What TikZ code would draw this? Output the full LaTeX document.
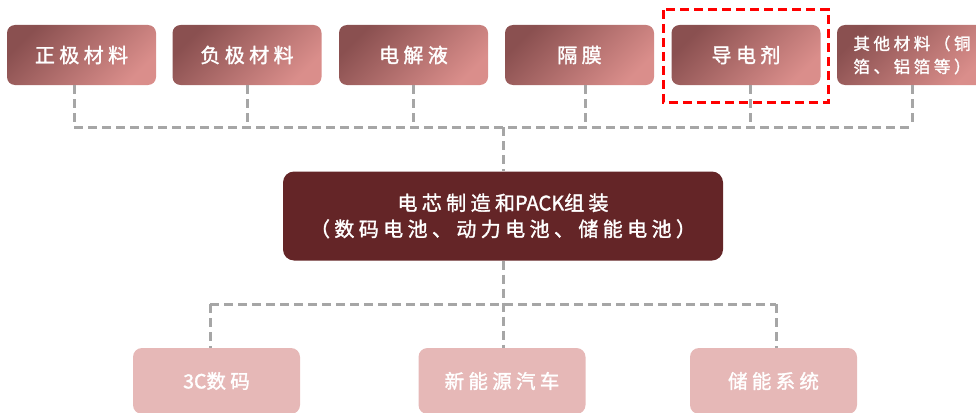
\documentclass[tikz,border=0pt]{standalone}
\usepackage{fontspec}
\usetikzlibrary{calc}
\newfontfamily\cjk[LetterSpace=22, FakeBold=1.6]{Noto Sans CJK SC}
\newfontfamily\cjkn[FakeBold=1.6]{Noto Sans CJK SC}
\definecolor{topdark}{HTML}{8A5050}
\definecolor{toplight}{HTML}{DA8E8B}
\definecolor{corered}{HTML}{642527}
\definecolor{apppink}{HTML}{E6B8B7}
\definecolor{conngray}{HTML}{A6A6A6}
\tikzset{
  mat/.style={rounded corners=8pt, minimum width=149pt, minimum height=60pt,
    top color=topdark, bottom color=toplight, shading angle=45, draw=none,
    text=white, inner sep=0pt, font=\cjk\fontsize{20}{23}\selectfont},
  corebox/.style={rounded corners=11pt, minimum width=440pt, minimum height=89pt,
    fill=corered, text=white, align=center, inner sep=0pt,
    font=\cjk\fontsize{20}{26}\selectfont},
  appbox/.style={rounded corners=9pt, minimum width=167pt, minimum height=66pt,
    fill=apppink, text=white, inner sep=0pt, font=\cjk\fontsize{19.5}{23}\selectfont},
  conn/.style={draw=conngray, line width=3pt, dash pattern=on 9pt off 5pt},
  reddash/.style={draw=red, line width=2.6pt, dash pattern=on 9pt off 5pt}
}
\begin{document}
\begin{tikzpicture}[x=1pt,y=-1pt]
\useasboundingbox (0,0) rectangle (976,412);
% top material boxes
\node[mat] (t1) at (81.5,55) {正极材料};
\node[mat] (t2) at (247,55) {负极材料};
\node[mat] (t3) at (413.5,55) {电解液};
\node[mat] (t4) at (579.5,55) {隔膜};
\node[mat] (t5) at (746,55) {导电剂};
\node[mat, minimum width=150pt, align=left, font=\cjk\fontsize{16.5}{23}\selectfont] (t6) at (912,55) {其他材料（铜\\箔、铝箔等）};
% red highlight
\draw[reddash] ($(t5.north west)+(-8,-15)$) rectangle ($(t5.south east)+(8,17)$);
% core box
\node[corebox] (c) at (503,216) {电芯制造和{\cjkn PACK}组装\\（数码电池、动力电池、储能电池）};
% application boxes
\node[appbox] (b1) at (216.5,381) {{\cjkn 3C}数码};
\node[appbox] (b2) at (502,381) {新能源汽车};
\node[appbox] (b3) at (773.5,381) {储能系统};
% top connectors
\coordinate (hl) at (74,127);
\coordinate (hr) at (912,127);
\coordinate (hc) at (503,127);
\coordinate (v1) at (74,127);
\coordinate (v2) at (247,127);
\coordinate (v3) at (413,127);
\coordinate (v4) at (585,127);
\coordinate (v5) at (750,127);
\coordinate (v6) at (912,127);
\draw[conn] (v1 |- t1.south) -- (v1);
\draw[conn] (v2 |- t2.south) -- (v2);
\draw[conn] (v3 |- t3.south) -- (v3);
\draw[conn] (v4 |- t4.south) -- (v4);
\draw[conn] (v5 |- t5.south) -- (v5);
\draw[conn] (v6 |- t6.south) -- (v6);
\draw[conn] (hl) -- (hr);
\draw[conn] (hc) -- (hc |- c.north);
% bottom connectors
\coordinate (bl) at (210,304);
\coordinate (br) at (776,304);
\coordinate (bc) at (503,304);
\draw[conn] (bl) -- (br);
\draw[conn] (c.south -| bc) -- (bc |- b2.north);
\draw[conn] (bl) -- (bl |- b1.north);
\draw[conn] (br) -- (br |- b3.north);
\end{tikzpicture}
\end{document}
